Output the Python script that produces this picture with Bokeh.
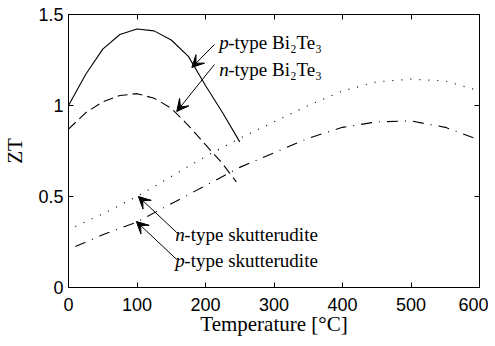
from bokeh.plotting import figure
from bokeh.models import LinearAxis, Arrow, VeeHead, Label, FixedTicker
from bokeh.embed import file_html
from bokeh.resources import INLINE

# ---- data ----
T_bi_p = [0, 25, 50, 75, 100, 125, 150, 175, 200, 225, 250]
zt_bi_p = [1.00, 1.17, 1.31, 1.39, 1.42, 1.41, 1.36, 1.27, 1.11, 0.96, 0.80]

T_bi_n = [0, 25, 50, 75, 100, 125, 150, 175, 200, 225, 245]
zt_bi_n = [0.87, 0.96, 1.02, 1.055, 1.065, 1.04, 0.985, 0.89, 0.785, 0.68, 0.58]

T_sk = [10, 50, 100, 150, 200, 250, 300, 350, 400, 450, 500, 550, 600]
zt_sk_n = [0.335, 0.405, 0.50, 0.61, 0.72, 0.82, 0.91, 1.00, 1.08, 1.13, 1.145, 1.135, 1.08]
zt_sk_p = [0.225, 0.29, 0.36, 0.46, 0.56, 0.66, 0.74, 0.82, 0.88, 0.91, 0.915, 0.88, 0.81]

x_ticks = [0, 100, 200, 300, 400, 500, 600]
y_ticks = [0, 0.5, 1, 1.5]
y_tick_labels = ["0", "0.5", "1", "1.5"]

# annotations: (italic prefix, rest, label x, label y, arrow tail x, tail y, tip x, tip y)
notes = [
    ("p", "-type Bi\u2082Te\u2083", 220, 1.346, 213, 1.335, 180, 1.209),
    ("n", "-type Bi\u2082Te\u2083", 220, 1.198, 213, 1.225, 158, 0.967),
    ("n", "-type skutterudite", 156, 0.291, 158, 0.302, 102, 0.500),
    ("p", "-type skutterudite", 156, 0.148, 158, 0.154, 99, 0.363),
]

SERIF = "Liberation Serif"
SANS = "Liberation Sans"

p = figure(frame_width=411, frame_height=273, x_range=(0, 600), y_range=(0, 1.5),
           output_backend="svg", toolbar_location=None,
           x_axis_label="Temperature [\u00b0C]", y_axis_label="ZT",
           min_border_left=59, min_border_right=9, min_border_top=14, min_border_bottom=40)
p.grid.visible = False
p.outline_line_color = "black"
p.background_fill_color = "white"
p.border_fill_color = "white"

for ax in (p.xaxis[0], p.yaxis[0]):
    ax.major_tick_in = 5
    ax.major_tick_out = 0
    ax.minor_tick_line_color = None
    ax.axis_line_color = "black"
    ax.major_tick_line_color = "black"
    ax.major_label_text_font = SANS
    ax.major_label_text_font_size = "18px"
    ax.major_label_text_color = "black"
    ax.axis_label_text_font = SERIF
    ax.axis_label_text_font_size = "21px"
    ax.axis_label_text_font_style = "normal"
    ax.axis_label_text_color = "black"

p.xaxis[0].ticker = FixedTicker(ticks=x_ticks)
p.yaxis[0].ticker = FixedTicker(ticks=y_ticks)
p.yaxis[0].major_label_overrides = {t: s for t, s in zip(y_ticks, y_tick_labels)}
p.xaxis[0].major_label_standoff = 10
p.xaxis[0].axis_label_standoff = -2
p.yaxis[0].major_label_standoff = 5
p.yaxis[0].axis_label_standoff = 8

# tick-only axes on top and right (labels not drawn)
for loc, ticks in (("above", x_ticks), ("right", y_ticks)):
    ax = LinearAxis(ticker=FixedTicker(ticks=ticks), major_tick_in=5, major_tick_out=0,
                    minor_tick_line_color=None, major_label_text_font_size="6px",
                    major_label_text_color=None,
                    major_label_standoff=0, axis_line_color="black",
                    major_tick_line_color="black")
    p.add_layout(ax, loc)

p.line(T_bi_p, zt_bi_p, line_color="black", line_width=1.1)
p.line(T_bi_n, zt_bi_n, line_color="black", line_width=1.1, line_dash="10 5")
p.line(T_sk, zt_sk_n, line_color="black", line_width=1.2, line_dash="1 8")
p.line(T_sk, zt_sk_p, line_color="black", line_width=1.1, line_dash="11 7 1 7")

for pre, rest, lx, ly, tx, ty, hx, hy in notes:
    p.add_layout(Arrow(x_start=tx, y_start=ty, x_end=hx, y_end=hy,
                       line_color="black", line_width=1,
                       end=VeeHead(size=12, fill_color="black", line_color="black")))
    p.add_layout(Label(x=lx, y=ly, text=pre, text_font=SERIF, text_font_style="italic",
                       text_font_size="19px", text_baseline="middle", text_align="left",
                       text_color="black"))
    p.add_layout(Label(x=lx, y=ly, x_offset=9, text=rest, text_font=SERIF,
                       text_font_size="19px", text_baseline="middle", text_align="left",
                       text_color="black"))

open("out.html", "w").write(file_html(p, INLINE))
